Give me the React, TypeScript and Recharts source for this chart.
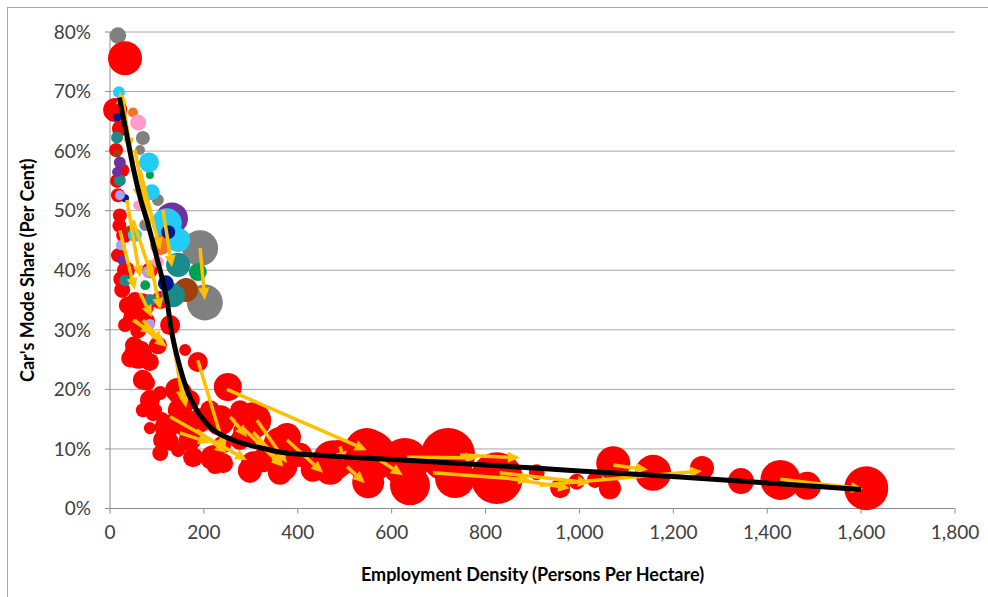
import React from 'react'
import {
  ScatterChart,
  Scatter,
  XAxis,
  YAxis,
  ZAxis,
  CartesianGrid,
  ReferenceLine,
} from 'recharts'

// 每筆 [就業密度 (人/公頃), 汽車分擔率 %, 泡泡大小]
const redCities = [
  [32, 75.6, 23.6], [11, 66.9, 11.8], [21, 63.8, 5.2], [13, 60.2, 4], [26, 56.8, 4],
  [17, 52.6, 4], [21, 49.2, 4], [30, 45.9, 5.2], [17, 42.5, 4], [34, 40.0, 6.6],
  [26, 36.7, 5.2], [38, 34.1, 6.6], [47, 32.0, 6.6], [32, 30.8, 4], [60, 29.9, 5.2],
  [75, 31.3, 8.2], [51, 27.4, 6.6], [64, 26.3, 9.9], [85, 24.6, 6.6], [102, 27.4, 6.6],
  [79, 21.1, 5.2], [107, 19.4, 4], [96, 16.5, 4], [111, 15.2, 3], [85, 13.5, 3],
  [117, 12.8, 6.6], [128, 11.2, 6.6], [160, 13.7, 8.2], [170, 11.5, 9.9], [145, 9.8, 4],
  [177, 8.6, 8.2], [213, 8.1, 6.6], [224, 7.3, 6.6], [187, 24.6, 8.2], [149, 19.4, 11.8],
  [251, 20.4, 16], [213, 16.5, 8.2], [192, 14.8, 11.8], [305, 14.8, 26.4], [277, 11.5, 8.2],
  [239, 10.7, 6.6], [326, 8.1, 11.8], [298, 6.0, 8.2], [373, 11.0, 18.4], [362, 6.0, 11.8],
  [405, 9.0, 11.8], [469, 6.5, 18.4], [490, 8.5, 26.4], [554, 8.8, 55], [628, 7.8, 47],
  [639, 3.9, 32.6], [550, 4.4, 20.9], [720, 9.0, 59.5], [735, 5.1, 32.6], [824, 5.1, 55],
  [909, 6.1, 5.2], [959, 3.4, 8.2], [994, 4.5, 5.2], [1033, 4.8, 5.2], [1072, 7.6, 23.6],
  [1065, 3.4, 9.9], [1157, 6.0, 26.4], [1261, 6.8, 11.8], [1344, 4.6, 13.8], [1428, 4.8, 32.6],
  [1485, 3.8, 16], [1611, 3.4, 39.5], [53, 35.0, 5.2], [107, 35.0, 6.6], [85, 40.0, 5.2],
  [128, 30.8, 8.2], [160, 26.6, 2.9], [43, 25.2, 6.6], [70, 16.5, 4], [89, 18.5, 5.2],
  [107, 9.3, 5.2], [432, 6.5, 11.8],
  [68, 34.1, 11.8], [60, 25.8, 16], [70, 21.6, 8.2], [85, 18.2, 8.2], [92, 16.0, 5.2],
  [121, 13.7, 11.8], [143, 19.9, 11.8], [149, 16.5, 11.8], [170, 18.2, 8.2], [113, 11.5, 8.2],
  [219, 8.6, 11.8], [277, 16.5, 8.2], [292, 12.7, 16], [305, 7.6, 11.8], [234, 14.8, 18.4],
  [362, 11.0, 21], [241, 7.6, 8.2], [298, 6.4, 11.8], [369, 7.0, 16], [377, 12.0, 16],
  [475, 8.1, 33], [547, 9.8, 40], [20, 47.5, 4], [24, 38.5, 5.2], [15, 55.0, 4],
]

const grayCities = [
  [17, 79.4, 5.5], [70, 62.2, 4], [64, 60.2, 2], [102, 51.8, 2.9], [75, 47.6, 2.9],
  [192, 43.7, 26.4], [202, 34.6, 26.4],
]
const cyanCities = [
  [19, 69.9, 2.9], [83, 58.1, 8.2], [89, 53.1, 5.2], [121, 47.9, 18.4], [145, 45.1, 11.8],
  [53, 45.9, 4],
]
const purpleCities = [
  [21, 58.1, 2.9], [15, 56.5, 2], [132, 48.7, 20.9], [26, 41.7, 2],
]
const tealCities = [
  [15, 62.3, 2.9], [21, 55.1, 2.9], [145, 40.9, 11.8], [134, 35.8, 11.8], [85, 35.0, 2.9],
  [32, 38.3, 2.9],
]
const navyCities = [
  [15, 65.7, 1.3], [32, 52.1, 1.3], [124, 46.4, 4], [119, 37.8, 5.2],
]
const brownCities = [
  [15, 59.6, 1.3], [162, 36.7, 11.8], [43, 46.7, 2],
]
const orangeCities = [
  [49, 66.5, 2], [107, 44.2, 8.2],
]
const pinkCities = [
  [60, 64.8, 5.2], [60, 50.9, 2], [102, 41.4, 2.9],
]
const greenCities = [
  [85, 56.0, 1.3], [187, 39.7, 6.6], [75, 37.5, 2],
]
const lavenderCities = [
  [81, 39.7, 2.9], [85, 31.0, 2], [21, 52.6, 2], [23, 44.2, 2],
]

// 各城市前後期變化：[x1, y1, x2, y2]
const changes = [
  [249, 20.0, 547, 9.8], [575, 8.1, 624, 5.6], [505, 7.0, 543, 4.3], [633, 8.6, 782, 8.5],
  [688, 6.0, 895, 4.8], [746, 9.0, 873, 8.5], [377, 11.5, 454, 6.0], [313, 14.8, 377, 7.6],
  [283, 13.5, 369, 7.0], [256, 15.4, 292, 12.0], [128, 15.4, 292, 8.1], [149, 12.7, 213, 11.0],
  [185, 13.2, 249, 9.3], [134, 28.3, 156, 17.7], [187, 24.9, 245, 9.8], [305, 12.8, 369, 7.3],
  [916, 3.9, 1261, 6.3], [1072, 7.3, 1146, 6.5], [1428, 4.9, 1604, 3.3], [830, 6.0, 1022, 4.3],
  [830, 5.3, 980, 3.4], [490, 10.4, 498, 8.1],
  [36, 51.8, 64, 38.8], [49, 48.4, 92, 38.3], [113, 50.1, 132, 40.5], [192, 43.7, 202, 35.0],
  [64, 36.2, 89, 32.1], [53, 31.6, 121, 27.1], [121, 35.0, 162, 16.9], [26, 69.4, 43, 60.2],
  [32, 65.2, 64, 51.8], [53, 60.2, 85, 46.7], [64, 56.8, 107, 43.4], [21, 46.7, 53, 36.7],
  [85, 41.7, 107, 33.3], [32, 63.5, 21, 70.0], [70, 31.6, 113, 27.8], [49, 31.6, 92, 29.4],
]

// 趨勢線
const trendX = [20, 35, 50, 65, 80, 100, 121, 132, 149, 164, 185, 213, 262, 320, 368, 450, 511, 650, 800, 1000, 1214, 1400, 1600]
const trendY = [69, 63, 57, 52, 48, 42, 35, 29.4, 23.7, 19.9, 16.5, 13.7, 11.5, 10.2, 9.4, 8.9, 8.6, 8, 7.3, 6.3, 5.3, 4.3, 3.2]

const xTicks = [0, 200, 400, 600, 800, 1000, 1200, 1400, 1600, 1800]
const yTicks = [0, 10, 20, 30, 40, 50, 60, 70, 80]

const GOLD = '#FFC000'
const AXIS_GRAY = '#8c8c8c'
const FONT = 'Lato, "Open Sans", sans-serif'

const toPoints = (rows: number[][]) => rows.map(([x, y, z]) => ({ x, y, z }))
const trendData = trendX.map((x, i) => ({ x, y: trendY[i], z: 0 }))

const bubbleSeries: Array<[string, number[][], string]> = [
  ['gray', grayCities, '#808080'],
  ['red', redCities, '#FF0000'],
  ['brown', brownCities, '#A0400A'],
  ['green', greenCities, '#00A050'],
  ['teal', tealCities, '#1A8A8A'],
  ['purple', purpleCities, '#7030A0'],
  ['cyan', cyanCities, '#22CCF5'],
  ['orange', orangeCities, '#F47320'],
  ['navy', navyCities, '#001A8C'],
  ['pink', pinkCities, '#FF9ACD'],
  ['lavender', lavenderCities, '#A8A0F0'],
]

// 箭頭：線段 + 三角形箭頭
const Arrow = (props: any) => {
  const x1 = Number(props.x1), y1 = Number(props.y1)
  const x2 = Number(props.x2), y2 = Number(props.y2)
  const len = Math.hypot(x2 - x1, y2 - y1) || 1
  const ux = (x2 - x1) / len, uy = (y2 - y1) / len
  const head = Math.min(12, len * 0.6), half = 5.5
  const bx = x2 - ux * head, by = y2 - uy * head
  return (
    <g>
      <line x1={x1} y1={y1} x2={bx} y2={by} stroke={GOLD} strokeWidth={3.5} />
      <polygon
        points={`${x2},${y2} ${bx - uy * half},${by + ux * half} ${bx + uy * half},${by - ux * half}`}
        fill={GOLD}
      />
    </g>
  )
}

const NoDot = () => <g />

export default function App() {
  return (
    <div style={{ position: 'absolute', left: 0, top: 0, width: 988, height: 597, background: '#fff' }}>
      <div style={{
        position: 'absolute', left: 7, top: 7, width: 981, height: 590,
        borderLeft: '1px solid #a6a6a6', borderTop: '1px solid #a6a6a6', boxSizing: 'border-box',
      }} />
      <div style={{ position: 'absolute', left: 0, top: 0 }}>
        <ScatterChart width={988} height={597} margin={{ top: 32, right: 33, left: 0, bottom: 8.5 }}>
          <CartesianGrid vertical={false} stroke="#a6a6a6" />
          <XAxis
            type="number"
            dataKey="x"
            domain={[0, 1800]}
            ticks={xTicks}
            interval={0}
            height={80}
            stroke={AXIS_GRAY}
            tickSize={5}
            tickMargin={12}
            tick={{ fontSize: 19, fill: '#404040', fontFamily: FONT }}
            tickFormatter={(v: number) => v.toLocaleString('en-US')}
            label={{
              value: 'Employment Density (Persons Per Hectare)',
              position: 'insideBottom',
              offset: 8,
              style: { fontSize: 18, fontWeight: 700, fill: '#000', fontFamily: FONT },
            }}
          />
          <YAxis
            type="number"
            dataKey="y"
            domain={[0, 80]}
            ticks={yTicks}
            interval={0}
            width={110}
            stroke={AXIS_GRAY}
            tickSize={5}
            tickMargin={14}
            tick={{ fontSize: 19, fill: '#404040', fontFamily: FONT }}
            tickFormatter={(v: number) => `${v}%`}
            label={{
              value: "Car's Mode Share (Per Cent)",
              angle: -90,
              position: 'insideLeft',
              offset: 28,
              textAnchor: 'middle',
              style: { fontSize: 18, fontWeight: 700, fill: '#000', fontFamily: FONT },
            }}
          />
          <ZAxis type="number" dataKey="z" domain={[0, 100]} range={[0, 3848]} />

          {bubbleSeries.map(([name, rows, color]) => (
            <Scatter key={name} name={name} data={toPoints(rows)} fill={color} isAnimationActive={false} />
          ))}

          {changes.map(([x1, y1, x2, y2], i) => (
            <ReferenceLine
              key={`chg-${i}`}
              segment={[{ x: x1, y: y1 }, { x: x2, y: y2 }]}
              shape={Arrow}
              ifOverflow="visible"
              zIndex={1500}
            />
          ))}

          <Scatter
            name="trend"
            data={trendData}
            line={{ stroke: '#000', strokeWidth: 5 }}
            lineJointType="monotoneX"
            shape={NoDot}
            isAnimationActive={false}
            zIndex={1600}
          />
        </ScatterChart>
      </div>
    </div>
  )
}
